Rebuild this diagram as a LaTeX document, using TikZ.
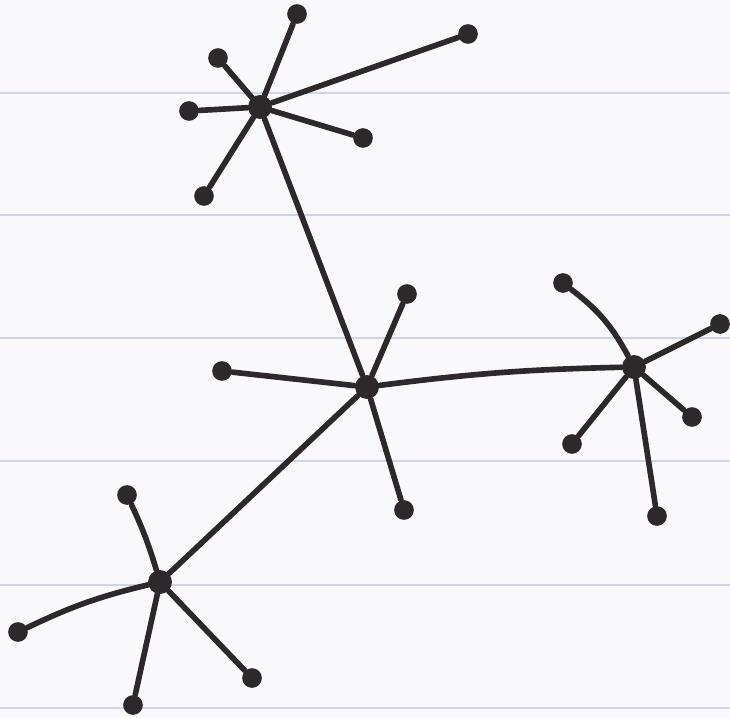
\documentclass[tikz,border=0pt]{standalone}
\usetikzlibrary{positioning, backgrounds}
\definecolor{cink}{RGB}{45, 40, 42}
\definecolor{cpaper}{RGB}{249, 249, 251}
\definecolor{crule}{RGB}{208, 212, 232}
\tikzset{
  hub/.style={circle, fill=cink, draw=none, inner sep=0pt, minimum size=6.8pt},
  leaf/.style={circle, fill=cink, draw=none, inner sep=0pt, minimum size=5.6pt},
  edge/.style={draw=cink, line width=1.6pt, line cap=round},
  rule/.style={draw=crule, line width=0.6pt},
}
\begin{document}
\begin{tikzpicture}[x=0.01cm, y=-0.01cm]

% ---------- paper ----------
\fill[cpaper] (0,0) rectangle (730,718);
\useasboundingbox (0,0) rectangle (730,718);
\foreach \ry in {93, 215, 338, 461, 585, 708}
  \draw[rule] (0,\ry) -- (730,\ry);

% ---------- hubs ----------
\node[hub] (top)    at (260,107) {};
\node[hub] (centre) at (367,387) {};
\node[hub] (right)  at (634,367) {};
\node[hub] (low)    at (160,582) {};

% ---------- leaves ----------
\node[leaf] (t1) at (297,14) {};
\node[leaf] (t2) at (218,58) {};
\node[leaf] (t3) at (189,111) {};
\node[leaf] (t4) at (204,196) {};
\node[leaf] (t5) at (363,138) {};
\node[leaf] (t6) at (468,34) {};

\node[leaf] (c1) at (407,294) {};
\node[leaf] (c2) at (222,371) {};
\node[leaf] (c3) at (404,510) {};

\node[leaf] (r1) at (563,283) {};
\node[leaf] (r2) at (720,324) {};
\node[leaf] (r3) at (692,417) {};
\node[leaf] (r4) at (572,444) {};
\node[leaf] (r5) at (657,516) {};

\node[leaf] (l1) at (127,495) {};
\node[leaf] (l2) at (18,632) {};
\node[leaf] (l3) at (133,705) {};
\node[leaf] (l4) at (252,678) {};

% ---------- links between hubs ----------
\draw[edge] (top) -- (centre);
\draw[edge] (centre) to[bend left=3] (right);
\draw[edge] (centre) -- (low);

% ---------- spokes ----------
\foreach \lf in {t1, t2, t3, t4, t5, t6}
  \draw[edge] (top) -- (\lf);
\foreach \lf in {c1, c2, c3}
  \draw[edge] (centre) -- (\lf);
\draw[edge] (right) to[bend right=12] (r1);
\foreach \lf in {r2, r3, r4, r5}
  \draw[edge] (right) -- (\lf);
\draw[edge] (low) to[bend right=4] (l1);
\draw[edge] (low) to[bend right=6] (l2);
\foreach \lf in {l3, l4}
  \draw[edge] (low) -- (\lf);

\end{tikzpicture}
\end{document}
